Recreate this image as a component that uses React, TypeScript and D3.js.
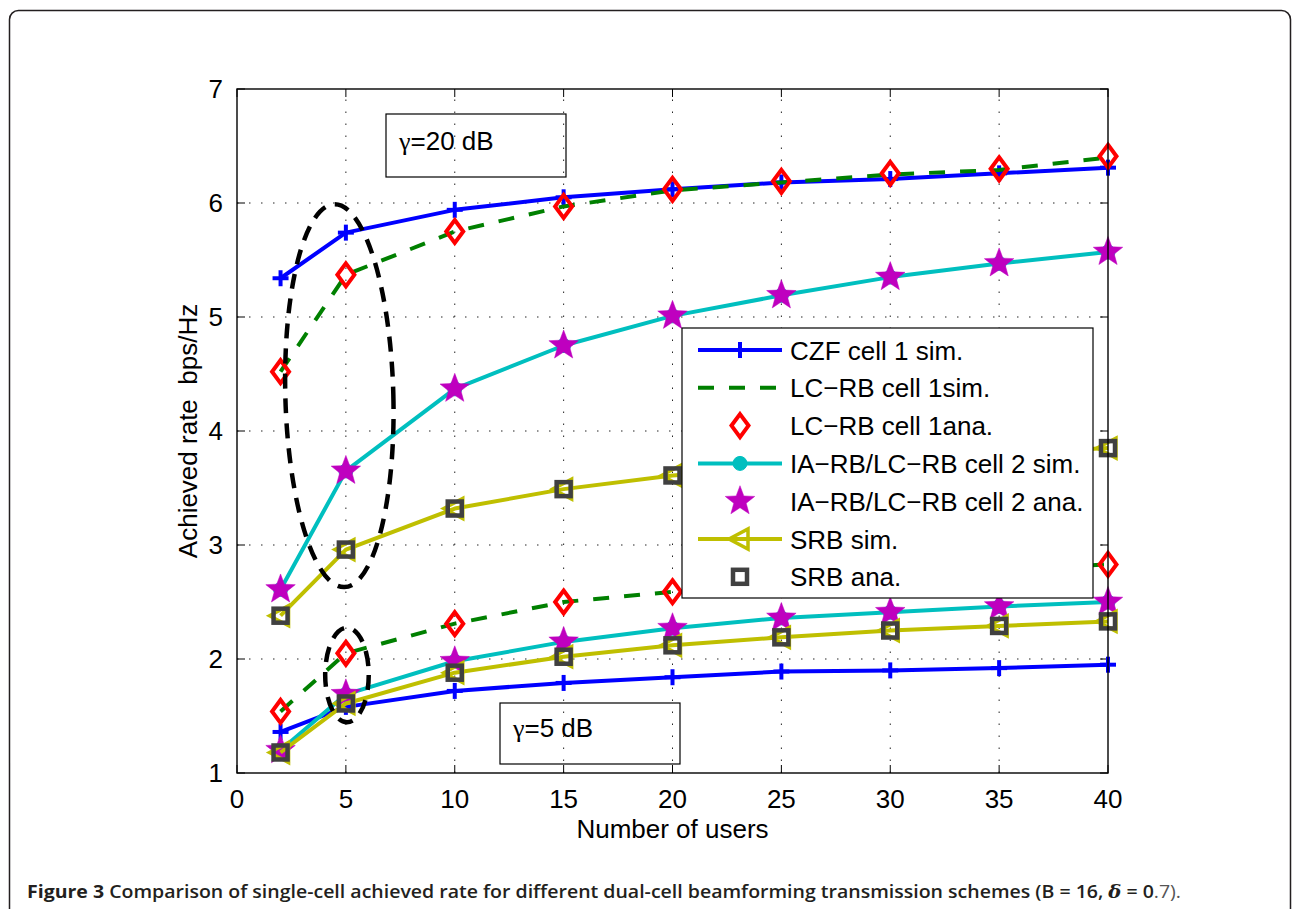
import React from "react";
import * as d3 from "d3";

// ---------- data ----------
const users = [2, 5, 10, 15, 20, 25, 30, 35, 40];

// gamma = 20 dB
const czfSim20 = [5.34, 5.74, 5.94, 6.05, 6.12, 6.18, 6.21, 6.26, 6.31];
const lcrbSim20 = [4.52, 5.37, 5.75, 5.97, 6.11, 6.18, 6.25, 6.29, 6.40];
const lcrbAna20 = [4.52, 5.37, 5.75, 5.97, 6.12, 6.19, 6.26, 6.30, 6.41];
const iarbSim20 = [2.61, 3.65, 4.37, 4.75, 5.01, 5.19, 5.35, 5.47, 5.57];
const iarbAna20 = [2.61, 3.65, 4.37, 4.75, 5.01, 5.19, 5.35, 5.47, 5.57];
const srbSim20 = [2.38, 2.96, 3.32, 3.49, 3.61, 3.68, 3.74, 3.80, 3.85];
const srbAna20 = [2.38, 2.96, 3.32, 3.49, 3.61, 3.68, 3.74, 3.80, 3.85];

// gamma = 5 dB
const czfSim5 = [1.36, 1.58, 1.72, 1.79, 1.84, 1.89, 1.90, 1.92, 1.95];
const lcrbSim5 = [1.54, 2.05, 2.31, 2.50, 2.59, 2.66, 2.72, 2.78, 2.83];
const lcrbAna5 = [1.54, 2.05, 2.31, 2.50, 2.59, 2.66, 2.72, 2.78, 2.83];
const iarbSim5 = [1.20, 1.69, 1.98, 2.15, 2.27, 2.36, 2.41, 2.46, 2.50];
const iarbAna5 = [1.20, 1.69, 1.98, 2.15, 2.27, 2.36, 2.41, 2.46, 2.50];
const srbSim5 = [1.18, 1.61, 1.88, 2.02, 2.12, 2.19, 2.25, 2.29, 2.33];
const srbAna5 = [1.18, 1.61, 1.88, 2.02, 2.12, 2.19, 2.25, 2.29, 2.33];

const xTicks = [0, 5, 10, 15, 20, 25, 30, 35, 40];
const yTicks = [1, 2, 3, 4, 5, 6, 7];

const legendLabels = [
  "CZF cell 1 sim.",
  "LC\u2212RB cell 1sim.",
  "LC\u2212RB cell 1ana.",
  "IA\u2212RB/LC\u2212RB cell 2 sim.",
  "IA\u2212RB/LC\u2212RB cell 2 ana.",
  "SRB sim.",
  "SRB ana.",
];

// ---------- styles ----------
type Marker = "plus" | "diamond" | "circle" | "star" | "triangle" | "square" | "none";
interface Style {
  color: string;
  line: boolean;
  dash?: string;
  marker: Marker;
}
const styles: Style[] = [
  { color: "#0000FF", line: true, marker: "plus" },
  { color: "#008000", line: true, dash: "16,15", marker: "none" },
  { color: "#FF0000", line: false, marker: "diamond" },
  { color: "#00BFBF", line: true, marker: "circle" },
  { color: "#BF00BF", line: false, marker: "star" },
  { color: "#BFBF00", line: true, marker: "triangle" },
  { color: "#404040", line: false, marker: "square" },
];

const set20 = [czfSim20, lcrbSim20, lcrbAna20, iarbSim20, iarbAna20, srbSim20, srbAna20];
const set5 = [czfSim5, lcrbSim5, lcrbAna5, iarbSim5, iarbAna5, srbSim5, srbAna5];

const FONT = "'Liberation Sans', Arial, Helvetica, sans-serif";
const GREEK = "'Liberation Serif', 'DejaVu Serif', serif";

function starPath(R: number) {
  const r = R * 0.42;
  const pts: [number, number][] = [];
  for (let i = 0; i < 10; i++) {
    const a = -Math.PI / 2 + (i * Math.PI) / 5;
    const rad = i % 2 === 0 ? R : r;
    pts.push([rad * Math.cos(a), rad * Math.sin(a)]);
  }
  return "M" + pts.map((p) => p[0].toFixed(2) + "," + p[1].toFixed(2)).join("L") + "Z";
}

function MarkerShape({ type, color, cx, cy }: { type: Marker; color: string; cx: number; cy: number }) {
  const t = `translate(${cx},${cy})`;
  switch (type) {
    case "plus":
      return (
        <g transform={t} stroke={color} strokeWidth={4}>
          <line x1={-8} y1={0} x2={8} y2={0} />
          <line x1={0} y1={-8} x2={0} y2={8} />
        </g>
      );
    case "diamond":
      return (
        <path transform={t} d="M0,-11.5L8.5,0L0,11.5L-8.5,0Z" fill="none" stroke={color} strokeWidth={4} strokeLinejoin="miter" />
      );
    case "circle":
      return <circle cx={cx} cy={cy} r={7} fill={color} stroke={color} />;
    case "star":
      return <path transform={t} d={starPath(15.5)} fill={color} stroke={color} strokeWidth={0.5} />;
    case "triangle":
      return (
        <path transform={t} d="M-11,0L8,-10L8,10Z" fill="none" stroke={color} strokeWidth={3.5} strokeLinejoin="miter" />
      );
    case "square":
      return <rect x={cx - 7} y={cy - 7} width={14} height={14} fill="none" stroke={color} strokeWidth={4.5} />;
    default:
      return null;
  }
}

export default function App() {
  const W = 1292;
  const H = 909;
  const x = d3.scaleLinear().domain([0, 40]).range([237, 1108]);
  const y = d3.scaleLinear().domain([1, 7]).range([773, 89]);
  const [x0, x1] = x.range();
  const [y0, y1] = y.range();

  const lineGen = d3
    .line<[number, number]>()
    .x((d) => x(d[0]))
    .y((d) => y(d[1]));

  const renderSet = (set: number[][], key: string) =>
    set.map((vals, i) => {
      const st = styles[i];
      const pts: [number, number][] = users.map((u, j) => [u, vals[j]]);
      return (
        <g key={key + i}>
          {st.line && (
            <path
              d={lineGen(pts) || ""}
              fill="none"
              stroke={st.color}
              strokeWidth={4}
              strokeDasharray={st.dash}
              strokeLinejoin="round"
            />
          )}
          {st.marker !== "none" &&
            pts.map((p, j) => <MarkerShape key={j} type={st.marker} color={st.color} cx={x(p[0])} cy={y(p[1])} />)}
        </g>
      );
    });

  // legend layout
  const lgX = 682, lgY = 328, lgW = 411, lgH = 270;
  const rowY = (i: number) => 350 + i * 37.8;

  return (
    <svg
      width={W}
      height={H}
      viewBox={`0 0 ${W} ${H}`}
      style={{ position: "absolute", left: 0, top: 0, background: "#fff" }}
    >
      <rect x={0} y={0} width={W} height={H} fill="#fff" />
      {/* figure frame */}
      <rect x={9.5} y={10.5} width={1281} height={1000} rx={9} ry={9} fill="none" stroke="#231f20" strokeWidth={1.5} />

      {/* grid */}
      <g stroke="#000" strokeWidth={1} strokeDasharray="1.5,10.5" opacity={0.85}>
        {xTicks.slice(1, -1).map((t) => (
          <line key={"gx" + t} x1={x(t)} x2={x(t)} y1={y0} y2={y1} />
        ))}
        {yTicks.slice(1, -1).map((t) => (
          <line key={"gy" + t} x1={x0} x2={x1} y1={y(t)} y2={y(t)} />
        ))}
      </g>

      {/* ticks */}
      <g stroke="#000" strokeWidth={1}>
        {xTicks.map((t) => (
          <g key={"tx" + t}>
            <line x1={x(t)} x2={x(t)} y1={y0} y2={y0 - 8} />
            <line x1={x(t)} x2={x(t)} y1={y1} y2={y1 + 8} />
          </g>
        ))}
        {yTicks.map((t) => (
          <g key={"ty" + t}>
            <line x1={x0} x2={x0 + 8} y1={y(t)} y2={y(t)} />
            <line x1={x1} x2={x1 - 8} y1={y(t)} y2={y(t)} />
          </g>
        ))}
      </g>

      {/* data */}
      {renderSet(set20, "a")}
      {renderSet(set5, "b")}

      {/* axes box */}
      <rect x={x0} y={y1} width={x1 - x0} height={y0 - y1} fill="none" stroke="#000" strokeWidth={1.4} />

      {/* tick labels */}
      <g fontFamily={FONT} fontSize={26} fill="#000">
        {xTicks.map((t) => (
          <text key={"lx" + t} x={x(t)} y={808} textAnchor="middle">
            {t}
          </text>
        ))}
        {yTicks.map((t) => (
          <text key={"ly" + t} x={223} y={y(t) + 9} textAnchor="end">
            {t}
          </text>
        ))}
        <text x={(x0 + x1) / 2} y={838} textAnchor="middle">
          Number of users
        </text>
        <text transform={`translate(197,${(y0 + y1) / 2}) rotate(-90)`} textAnchor="middle" xmlSpace="preserve">
          {"Achieved rate  bps/Hz"}
        </text>
      </g>

      {/* ellipses */}
      <g fill="none" stroke="#000" strokeWidth={4.5} strokeDasharray="15,10">
        <ellipse cx={x(4.7)} cy={y(4.31)} rx={x(2.48) - x(0)} ry={y(1) - y(2.68)} transform={`rotate(-1.5,${x(4.7)},${y(4.31)})`} />
        <ellipse cx={x(5.05)} cy={y(1.86)} rx={x(1.0) - x(0)} ry={y(1) - y(1.415)} />
      </g>

      {/* annotation boxes */}
      <g fontFamily={FONT} fontSize={26} fill="#000">
        <rect x={386} y={114} width={180} height={63} fill="none" stroke="#000" strokeWidth={1.2} />
        <text x={399} y={150}>
          <tspan fontFamily={GREEK}>γ</tspan>=20 dB
        </text>
        <rect x={500} y={703} width={180} height={61} fill="none" stroke="#000" strokeWidth={1.2} />
        <text x={513} y={737}>
          <tspan fontFamily={GREEK}>γ</tspan>=5 dB
        </text>
      </g>

      {/* legend */}
      <g>
        <rect x={lgX} y={lgY} width={lgW} height={lgH} fill="#fff" stroke="#000" strokeWidth={1.2} />
        {legendLabels.map((lab, i) => {
          const st = styles[i];
          const cy = rowY(i);
          return (
            <g key={"lg" + i}>
              {st.line && (
                <line x1={698} x2={782} y1={cy} y2={cy} stroke={st.color} strokeWidth={4} strokeDasharray={st.dash} />
              )}
              <MarkerShape type={st.marker} color={st.color} cx={740} cy={cy} />
              <text x={790} y={cy + 9.5} fontFamily={FONT} fontSize={26} fill="#000">
                {lab}
              </text>
            </g>
          );
        })}
      </g>

      {/* caption */}
      <text x={27} y={898} fontFamily="'Open Sans', 'Noto Sans', sans-serif" fontSize={18} fill="#231f20" textLength={1154} lengthAdjust="spacingAndGlyphs">
        <tspan fontWeight={700}>Figure 3</tspan>
        <tspan fontWeight={600}> Comparison of single-cell achieved rate for different dual-cell beamforming transmission schemes (B = 16, </tspan>
        <tspan fontWeight={600} fontStyle="italic" fontFamily="'DejaVu Serif', serif">δ</tspan>
        <tspan fontWeight={600}> = 0</tspan>
        <tspan fontWeight={400} fill="#555">.7).</tspan>
      </text>
    </svg>
  );
}
